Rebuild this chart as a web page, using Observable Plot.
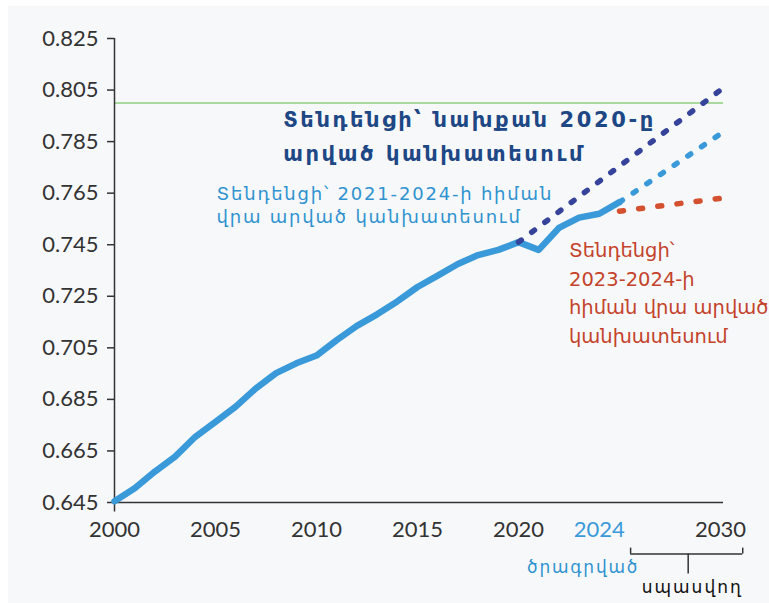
<!DOCTYPE html>
<html><head><meta charset="utf-8">
<script src="https://cdn.jsdelivr.net/npm/d3@7"></script>
<script src="https://cdn.jsdelivr.net/npm/@observablehq/plot@0.6"></script>
<style>
html,body{margin:0;padding:0;background:#fff;width:769px;height:603px;overflow:hidden;}
#bg{position:absolute;left:8px;top:6px;width:761px;height:597px;background:#f7f8fa;}
#chart{position:absolute;left:0;top:0;}
</style></head><body><div id="bg"></div><div id="chart"></div>
<script>
// Observed / projected HDI (solid line)
const years = [2000,2001,2002,2003,2004,2005,2006,2007,2008,2009,2010,2011,2012,2013,2014,2015,2016,2017,2018,2019,2020,2021,2022,2023,2024,2025];
const hdi   = [0.6455,0.6505,0.657,0.6628,0.6705,0.6763,0.6822,0.6893,0.6952,0.699,0.702,0.708,0.7135,0.718,0.723,0.7286,0.733,0.7375,0.741,0.743,0.746,0.743,0.7515,0.7555,0.757,0.7615];
// Projection based on pre-2020 trend
const pre2020Years = [2020, 2030];
const pre2020Values = [0.746, 0.805];
// Projection based on 2021-2024 trend
const t2124Years = [2025, 2030];
const t2124Values = [0.7615, 0.788];
// Projection based on 2023-2024 trend
const t2324Years = [2025, 2030];
const t2324Values = [0.758, 0.763];
// Very high human development threshold
const threshold = [0.800];
// Ticks
const yTicks = [0.645,0.665,0.685,0.705,0.725,0.745,0.765,0.785,0.805,0.825];
const xTicks = [2000,2005,2010,2015,2020,2030];
const xTickHighlight = [2024];
// Labels
const labelPre2020 = "Տենդենցի՝ նախքան 2020-ը\nարված կանխատեսում";
const label2124 = "Տենդենցի՝ 2021-2024-ի հիման\nվրա արված կանխատեսում";
const label2324 = "Տենդենցի՝\n2023-2024-ի\nհիման վրա արված\nկանխատեսում";
const labelProjected = "ծրագրված";
const labelExpected = "սպասվող";
// Annotation anchors (data units)
const annPre2020 = [{x: 2008.35, y: 0.7882}];
const ann2124 = [{x: 2005.05, y: 0.7606}];
const ann2324 = [{x: 2022.5, y: 0.7271}];
const annProjected = [{x: 2023.2, y: 0.6198}];
const annExpected = [{x: 2028.6, y: 0.6122}];
const bracket = {x1: 2025.55, x2: 2031.1, mid: 2028.4, y: 0.625, yTop: 0.6273, yBottom: 0.6173};

const mk = (xs, vs) => xs.map((x, i) => ({x, y: vs[i]}));
const solid = mk(years, hdi);
const pre = mk(pre2020Years, pre2020Values);
const a2124 = mk(t2124Years, t2124Values);
const a2324 = mk(t2324Years, t2324Values);

const AX = "#333333";
const NUMFONT = "Lato, 'Open Sans', sans-serif";
const ARMFONT = "'DejaVu Sans', sans-serif";
const NAVY = "#1e4785", LBLUE = "#2f93d0", RED = "#c4432a", BLK = "#111111";

const dotted = {strokeWidth: 5.5, strokeLinecap: "round", strokeDasharray: "3.5,13"};

const plot = Plot.plot({
  width: 769, height: 603,
  marginLeft: 114, marginRight: 49, marginTop: 38, marginBottom: 101,
  style: {background: "transparent", overflow: "visible"},
  x: {domain: [2000, 2030]},
  y: {domain: [0.645, 0.825]},
  marks: [
    Plot.ruleY(threshold, {x1: 2000, x2: 2030.15, stroke: "#8fcf7c", strokeWidth: 1.6}),
    Plot.axisY(yTicks, {tickSize: 7, tickPadding: 9, tickFormat: d3.format(".3f"), fontSize: 22, fontFamily: NUMFONT, color: AX, strokeWidth: 1.5, label: null}),
    Plot.ruleX([2000], {y1: 0.6413, y2: 0.825, stroke: AX, strokeWidth: 1.5}),
    Plot.ruleY([0.645], {x1: 2000, x2: 2030.15, stroke: AX, strokeWidth: 1.5}),
    Plot.axisX(xTicks, {tickSize: 0, tickPadding: 19, tickFormat: d => String(d), fontSize: 22, fontFamily: NUMFONT, color: AX, label: null}),
    Plot.axisX(xTickHighlight, {tickSize: 0, tickPadding: 19, tickFormat: d => String(d), fontSize: 22, fontFamily: NUMFONT, color: "#3a9ad9", label: null}),
    Plot.line(solid, {x: "x", y: "y", stroke: "#3a9ad9", strokeWidth: 6.5, strokeLinejoin: "round", strokeLinecap: "round"}),
    Plot.line(pre, {x: "x", y: "y", stroke: "#35439a", ...dotted}),
    Plot.line(a2124, {x: "x", y: "y", stroke: "#3a9ad9", ...dotted}),
    Plot.line(a2324, {x: "x", y: "y", stroke: "#d4502e", strokeWidth: 5.5, strokeLinecap: "round", strokeDasharray: "4,15.3"}),
    Plot.text(annPre2020, {x: "x", y: "y", text: () => labelPre2020, textAnchor: "start", lineAnchor: "middle", lineHeight: 1.62, fontSize: 21, fontWeight: "bold", fontFamily: ARMFONT, fill: NAVY}),
    Plot.text(ann2124, {x: "x", y: "y", text: () => label2124, textAnchor: "start", lineAnchor: "middle", lineHeight: 1.25, fontSize: 18, fontFamily: ARMFONT, fill: LBLUE}),
    Plot.text(ann2324, {x: "x", y: "y", text: () => label2324, textAnchor: "start", lineAnchor: "middle", lineHeight: 1.46, fontSize: 19.5, fontFamily: ARMFONT, fill: RED}),
    Plot.ruleY([bracket], {x1: "x1", x2: "x2", y: "y", stroke: AX, strokeWidth: 1.5}),
    Plot.ruleX([bracket], {x: "x1", y1: "y", y2: "yTop", stroke: AX, strokeWidth: 1.5}),
    Plot.ruleX([bracket], {x: "x2", y1: "y", y2: "yTop", stroke: AX, strokeWidth: 1.5}),
    Plot.ruleX([bracket], {x: "mid", y1: "y", y2: "yBottom", stroke: AX, strokeWidth: 1.5}),
    Plot.text(annProjected, {x: "x", y: "y", text: () => labelProjected, fontSize: 17, fontFamily: ARMFONT, fill: LBLUE}),
    Plot.text(annExpected, {x: "x", y: "y", text: () => labelExpected, fontSize: 17, fontFamily: ARMFONT, fill: BLK})
  ]
});
const sel = d3.select(plot);
sel.selectAll(`g[fill="${NAVY}"]`).style("letter-spacing", "2.6px");
sel.selectAll(`g[fill="${LBLUE}"]`).style("letter-spacing", "1.8px");
sel.selectAll(`g[fill="${BLK}"]`).style("letter-spacing", "2px");
document.getElementById("chart").appendChild(plot);
</script></body></html>
